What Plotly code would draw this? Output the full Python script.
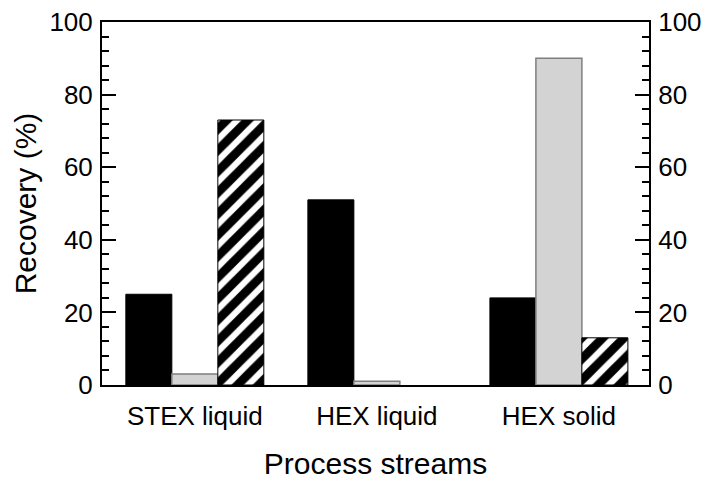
import plotly.graph_objects as go

# Recovery of each component across the process streams
streams = ["STEX liquid", "HEX liquid", "HEX solid"]
recovery_black = [25, 51, 24]
recovery_gray = [3, 1, 90]
recovery_hatched = [73, 0, 13]

FONT = "Arial, Liberation Sans, sans-serif"

fig = go.Figure()
fig.add_trace(go.Bar(
    x=streams, y=recovery_black,
    marker=dict(color="black", line=dict(color="black", width=1)),
))
fig.add_trace(go.Bar(
    x=streams, y=recovery_gray,
    marker=dict(color="#d3d3d3", line=dict(color="#7f7f7f", width=1.5)),
))
# no outline on empty bars so a zero value leaves no stray line
hatch_edge = [1 if v > 0 else 0 for v in recovery_hatched]
fig.add_trace(go.Bar(
    x=streams, y=recovery_hatched,
    marker=dict(
        color="black",
        line=dict(color="black", width=hatch_edge),
        pattern=dict(shape="/", bgcolor="black", fgcolor="white",
                     size=15, solidity=0.42, fillmode="replace"),
    ),
))

# Right-hand axis mirrors the left one, with its own labels
fig.add_trace(go.Scatter(x=streams, y=[None] * 3, yaxis="y2",
                         showlegend=False, hoverinfo="skip"))

axis_common = dict(
    range=[0, 100], dtick=20, ticks="inside", ticklen=14, tickwidth=2,
    tickcolor="black", showline=True, linecolor="black", linewidth=2,
    showgrid=False, zeroline=False, automargin=False,
    tickfont=dict(family=FONT, size=26, color="black"),
    ticklabelstandoff=2,
    minor=dict(dtick=4, ticks="inside", ticklen=7, tickwidth=2,
               tickcolor="black", showgrid=False),
)

fig.update_layout(
    width=705, height=480,
    margin=dict(l=102, r=56, t=22, b=95),
    paper_bgcolor="white", plot_bgcolor="white",
    barmode="group", bargap=0.242, bargroupgap=0,
    showlegend=False,
    font=dict(family=FONT, color="black"),
    xaxis=dict(
        range=[-0.51, 2.495], showline=True, mirror=True,
        linecolor="black", linewidth=2, ticks="", showgrid=False,
        automargin=False,
        tickfont=dict(family=FONT, size=26, color="black"),
        ticklabelstandoff=7,
        title=dict(text="Process streams",
                   font=dict(family=FONT, size=30, color="black"),
                   standoff=26),
    ),
    yaxis=dict(
        **axis_common,
        title=dict(text="Recovery (%)",
                   font=dict(family=FONT, size=30, color="black"),
                   standoff=4),
    ),
    yaxis2=dict(**axis_common, overlaying="y", side="right"),
)

fig.write_html("out.html")
